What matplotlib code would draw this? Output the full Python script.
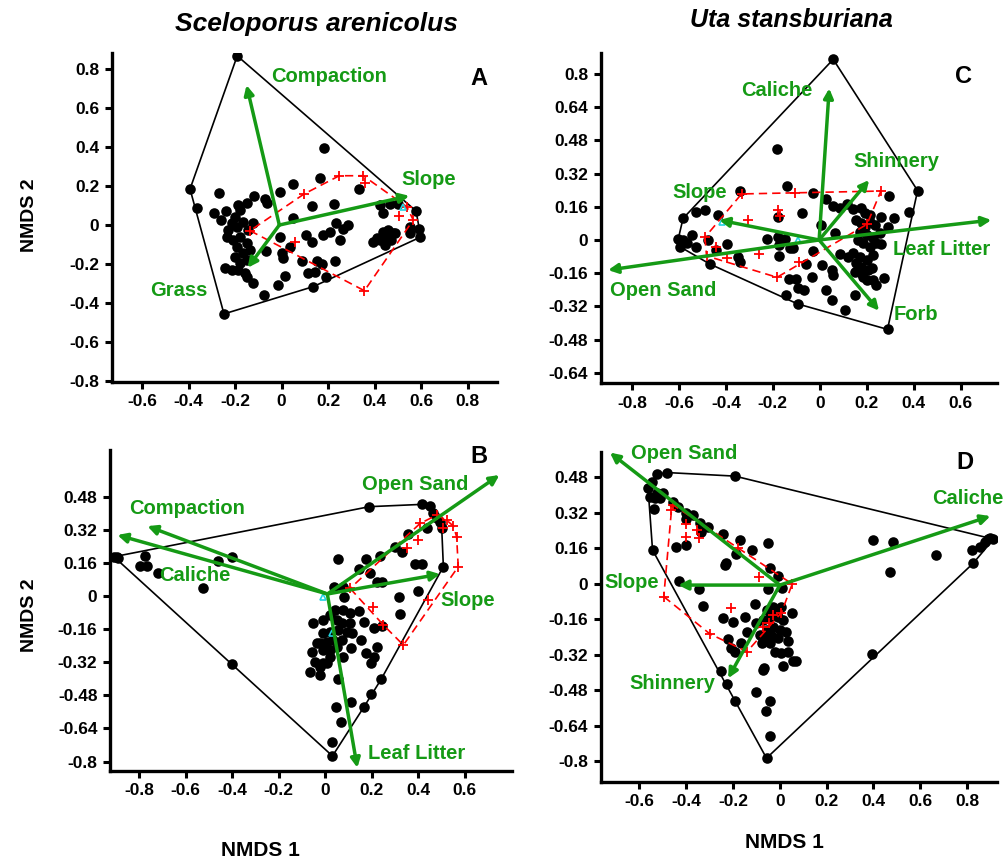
import numpy as np
import matplotlib
matplotlib.use('Agg')
import matplotlib.pyplot as plt

plt.rcParams['font.family'] = ['Liberation Sans', 'DejaVu Sans']
plt.rcParams['font.weight'] = 'bold'

GREEN = '#159a15'

# ---------------- Panel A: Sceloporus arenicolus ----------------
a_x = [-0.191, 0.182, 0.165, 0.047, -0.007, -0.118, -0.270, -0.394,
       -0.072, -0.065, -0.366, -0.291, -0.262, -0.241,
       -0.186, -0.151, -0.179, -0.201, -0.215, -0.229, -0.194, -0.165, -0.143, -0.122,
       -0.237, -0.208, -0.179, -0.151, -0.194, -0.165, -0.136, -0.201, -0.179, -0.151,
       -0.244, -0.215, -0.186, -0.158, -0.151, -0.125,
       -0.067, -0.007, 0.000, 0.007, 0.036, 0.014, -0.017, -0.076,
       0.047, 0.105, 0.129, 0.129, 0.225, 0.234, 0.287, 0.262, 0.208, 0.179, 0.251,
       0.086, 0.151, 0.172, 0.231, 0.115, 0.143, 0.191, 0.136,
       0.334, 0.423, 0.466, 0.502, 0.434,
       0.394, 0.409, 0.437, 0.459, 0.480, 0.444, 0.423, 0.469, 0.552, 0.552,
       0.592, 0.595, 0.578, 0.487, 0.452, -0.248]
a_y = [0.868, 0.397, 0.239, 0.210, 0.168, 0.150, 0.166, 0.185,
       0.132, 0.111, 0.089, 0.063, 0.026, 0.072,
       0.103, 0.111, 0.077, 0.043, 0.009, -0.026, -0.009, 0.017, -0.026, 0.009,
       -0.060, -0.077, -0.060, -0.094, -0.111, -0.145, -0.128, -0.162, -0.197, -0.179,
       -0.222, -0.231, -0.231, -0.248, -0.265, -0.299,
       -0.132, -0.060, -0.145, -0.171, -0.115, -0.262, -0.308, -0.359,
       0.038, -0.051, -0.085, 0.099, 0.106, 0.009, 0.000, -0.021, -0.034, -0.051, -0.077,
       -0.183, -0.183, -0.200, -0.185, -0.248, -0.243, -0.268, -0.316,
       0.185, 0.103, 0.106, 0.106, 0.060,
       -0.085, -0.068, -0.034, -0.026, -0.043, -0.103, -0.077, -0.077, -0.009, -0.043,
       -0.019, -0.063, 0.072, -0.043, -0.060, -0.456]
a_red_x = [-0.136, 0.096, 0.248, 0.351, 0.358, 0.538, 0.566, 0.505, 0.057, 0.356]
a_red_y = [-0.029, 0.159, 0.253, 0.253, 0.214, 0.094, 0.026, 0.048, -0.089, -0.337]
a_vectors = {'Compaction': (-0.151, 0.718), 'Slope': (0.549, 0.150), 'Grass': (-0.146, -0.219)}
a_labels = {'Compaction': (-0.047, 0.764), 'Slope': (0.516, 0.234), 'Grass': (-0.566, -0.337)}
a_origin = (-0.01, 0.0)
a_cent_x = [0.52]
a_cent_y = [0.094]

# ---------------- Panel B: Sceloporus arenicolus ----------------
b_x = [-0.908, -0.896, -0.889, -0.774, -0.796, -0.767, -0.717, -0.523, -0.462, -0.399, -0.399,
       0.191, 0.416, 0.452, 0.466, 0.480, 0.495, 0.502, 0.437, 0.358, 0.330, 0.301, 0.509,
       0.387, 0.416, 0.237, 0.175, 0.057, 0.148, 0.194, 0.225, 0.244, 0.401, 0.320, 0.323,
       0.039, 0.079, 0.082, 0.043, 0.079, 0.108, 0.022, -0.007, 0.050, 0.072, 0.108, -0.050,
       -0.007, 0.022, 0.057, 0.093, 0.115, 0.072, 0.036, 0.007, -0.022, -0.036, 0.022, -0.007,
       -0.057, 0.050, 0.079, 0.110, 0.022, -0.043, -0.007, -0.022, 0.010, -0.065, -0.022, 0.057,
       0.148, 0.169, 0.211, 0.247, 0.155, 0.176, 0.211, 0.225, 0.196,
       0.046, 0.067, 0.112, 0.032, 0.032, 0.168, 0.198, 0.241]
b_y = [0.190, 0.187, 0.182, 0.193, 0.145, 0.145, 0.110, 0.037, 0.171, 0.187, -0.329,
       0.432, 0.443, 0.435, 0.400, 0.375, 0.359, 0.327, 0.327, 0.300, 0.214, 0.238, 0.142,
       0.153, 0.153, 0.195, 0.177, 0.177, 0.129, 0.110, 0.069, 0.069, 0.026, -0.003, -0.087,
       0.045, 0.045, -0.003, -0.068, -0.068, -0.084, -0.092, -0.116, -0.116, -0.129, -0.132, -0.129,
       -0.180, -0.172, -0.164, -0.172, -0.177, -0.213, -0.213, -0.221, -0.229, -0.226, -0.261, -0.261,
       -0.269, -0.245, -0.293, -0.253, -0.293, -0.317, -0.322, -0.342, -0.322, -0.369, -0.382, -0.403,
       -0.071, -0.124, -0.156, -0.143, -0.213, -0.277, -0.293, -0.245, -0.325,
       -0.535, -0.607, -0.511, -0.707, -0.773, -0.535, -0.474, -0.403]
b_red_x = [0.409, 0.480, 0.523, 0.566, 0.573, 0.401, 0.351, 0.444, 0.205, 0.251, 0.337, 0.108, 0.509, 0.552]
b_red_y = [0.351, 0.391, 0.367, 0.287, 0.142, 0.271, 0.230, -0.019, -0.052, -0.140, -0.237, 0.037, 0.327, 0.338]
b_vectors = {'Open Sand': (0.750, 0.585), 'Compaction': (-0.764, 0.338), 'Caliche': (-0.893, 0.295),
             'Slope': (0.495, 0.106), 'Leaf Litter': (0.139, -0.83)}
b_labels = {'Open Sand': (0.158, 0.540), 'Compaction': (-0.842, 0.424), 'Caliche': (-0.713, 0.097),
            'Slope': (0.495, -0.023), 'Leaf Litter': (0.186, -0.760)}
b_origin = (0.010, 0.010)
b_cent_x = [-0.007, 0.029]
b_cent_y = [-0.003, -0.180]

# ---------------- Panel C: Uta stansburiana ----------------
c_x = [0.057, -0.182, -0.138, -0.340, -0.028, 0.028, 0.057, 0.085, 0.116, 0.142, 0.177, 0.191,
       0.213, 0.416, 0.294, 0.380, 0.260, 0.316, 0.291,
       -0.525, -0.489, -0.433, -0.582, -0.546, -0.603, -0.582, -0.567, -0.596, -0.525, -0.475,
       -0.397, -0.440, -0.468, -0.348, -0.340, -0.224, -0.177, -0.149, -0.173, -0.128, -0.113,
       -0.174, -0.078, 0.007, 0.064, -0.028, -0.057, -0.177,
       0.156, 0.177, 0.191, 0.213, 0.234, 0.170, 0.199, 0.227, 0.255, 0.163, 0.184, 0.213,
       0.241, 0.262, 0.142, 0.170, 0.199, 0.227, 0.156, 0.177, 0.206, 0.220, 0.149, 0.184,
       0.199, 0.177, 0.227, 0.241, 0.272, 0.121, 0.085,
       -0.132, -0.102, -0.095, -0.067, -0.035, 0.010, 0.050, 0.054, 0.028, 0.050, 0.106,
       0.149, -0.145, -0.095, 0.288]
c_y = [0.871, 0.437, 0.262, 0.238, 0.228, 0.196, 0.165, 0.153, 0.173, 0.148, 0.153, 0.129,
       0.120, 0.238, 0.214, 0.137, 0.112, 0.104, 0.064,
       0.137, 0.145, 0.120, 0.104, 0.024, 0.003, 0.000, -0.016, -0.032, -0.035, 0.000,
       -0.019, -0.048, -0.116, -0.084, -0.104, 0.005, 0.016, 0.003, -0.024, -0.040, -0.040,
       -0.077, 0.132, 0.072, 0.035, -0.051, -0.116, 0.112,
       0.096, 0.084, 0.064, 0.088, 0.072, 0.040, 0.024, 0.008, 0.032, 0.000, -0.016, -0.032,
       -0.016, -0.019, -0.064, -0.080, -0.096, -0.072, -0.112, -0.129, -0.145, -0.137, -0.153, -0.177,
       -0.193, -0.161, -0.193, -0.217, -0.185, -0.080, -0.067,
       -0.190, -0.190, -0.233, -0.241, -0.177, -0.120, -0.145, -0.169, -0.241, -0.289, -0.337,
       -0.265, -0.265, -0.308, -0.431]
c_red_x = [-0.333, -0.106, 0.260, 0.201, -0.177, -0.170, -0.305, -0.489, -0.440, -0.397, -0.258, -0.182, -0.088, -0.482]
c_red_y = [0.222, 0.225, 0.236, 0.076, 0.145, 0.116, 0.096, 0.013, -0.035, -0.088, -0.069, -0.180, -0.104, -0.077]
c_vectors = {'Caliche': (0.040, 0.731), 'Shinnery': (0.210, 0.289), 'Leaf Litter': (0.730, 0.096),
             'Forb': (0.252, -0.341), 'Open Sand': (-0.901, -0.145), 'Slope': (-0.428, 0.096)}
c_labels = {'Caliche': (-0.333, 0.723), 'Shinnery': (0.142, 0.378), 'Leaf Litter': (0.312, -0.048),
            'Forb': (0.316, -0.361), 'Open Sand': (-0.894, -0.244), 'Slope': (-0.628, 0.230)}
c_origin = (-0.003, 0.0)
c_cent_x = [-0.418, -0.092]
c_cent_y = [0.088, 0.000]

# ---------------- Panel D: Uta stansburiana ----------------
d_x = [-0.481, -0.524, -0.548, -0.563, -0.527, -0.556, -0.534, -0.513, -0.501, -0.537, -0.456,
       -0.434, -0.399, -0.370, -0.402, -0.342, -0.335, -0.306, -0.544, -0.444, -0.402, -0.192,
       -0.242, -0.228, -0.235, -0.171, -0.188, -0.121, -0.050, -0.040, -0.007, -0.430, -0.345,
       -0.330, -0.050, 0.011,
       -0.107, -0.245, -0.202, -0.150, -0.100, -0.057, -0.028, -0.014, 0.007, 0.054, -0.071,
       -0.043, -0.007, 0.014, -0.057, -0.028, 0.000, 0.028, -0.085, -0.064, -0.036, -0.007,
       0.036, -0.142, -0.164, -0.221, -0.207, -0.192, -0.078, -0.043, -0.021, 0.007, 0.036,
       0.014, 0.057, 0.071, -0.068, -0.074, -0.252, -0.224, -0.192, -0.100, -0.040, -0.061,
       -0.043, -0.057,
       0.399, 0.484, 0.667, 0.470, 0.392, 0.826, 0.823, 0.855, 0.876, 0.890, 0.912, 0.897]
d_y = [0.502, 0.494, 0.461, 0.431, 0.408, 0.393, 0.386, 0.386, 0.408, 0.338, 0.371,
       0.348, 0.318, 0.311, 0.291, 0.273, 0.236, 0.258, 0.153, 0.168, 0.176, 0.486,
       0.225, 0.093, 0.086, 0.198, 0.135, 0.153, 0.183, 0.071, 0.038, 0.015, -0.024,
       -0.099, -0.024, -0.017,
       -0.090, -0.155, -0.170, -0.147, -0.174, -0.117, -0.102, -0.125, -0.102, -0.132, -0.162,
       -0.147, -0.147, -0.162, -0.207, -0.192, -0.207, -0.215, -0.230, -0.245, -0.230, -0.245,
       -0.255, -0.215, -0.267, -0.249, -0.290, -0.305, -0.267, -0.267, -0.305, -0.309, -0.305,
       -0.369, -0.347, -0.347, -0.380, -0.387, -0.390, -0.450, -0.526, -0.488, -0.526, -0.572,
       -0.685, -0.785,
       0.198, 0.191, 0.131, 0.053, -0.317, 0.093, 0.153, 0.168, 0.191, 0.201, 0.201, 0.206]
d_red_x = [-0.463, -0.456, -0.402, -0.402, -0.356, -0.345, -0.178, -0.088, 0.053, 0.007, -0.046,
           -0.074, -0.207, -0.299, -0.140, -0.496, -0.028]
d_red_y = [0.333, 0.356, 0.270, 0.213, 0.243, 0.206, 0.161, 0.033, 0.000, -0.129, -0.174,
           -0.192, -0.110, -0.225, -0.305, -0.057, -0.140]
d_vectors = {'Open Sand': (-0.726, 0.592), 'Caliche': (0.900, 0.306), 'Slope': (-0.434, -0.005),
             'Shinnery': (-0.221, -0.425)}
d_labels = {'Open Sand': (-0.638, 0.589), 'Caliche': (0.652, 0.386), 'Slope': (-0.748, 0.006),
            'Shinnery': (-0.644, -0.450)}
d_origin = (0.0, -0.005)
d_cent_x = []
d_cent_y = []


def hull(xs, ys):
    # convex hull (monotone chain) of a group's points
    pts = sorted(set(zip(xs, ys)))

    def cross(o, a, b):
        return (a[0] - o[0]) * (b[1] - o[1]) - (a[1] - o[1]) * (b[0] - o[0])
    lower, upper = [], []
    for p in pts:
        while len(lower) >= 2 and cross(lower[-2], lower[-1], p) <= 0:
            lower.pop()
        lower.append(p)
    for p in reversed(pts):
        while len(upper) >= 2 and cross(upper[-2], upper[-1], p) <= 0:
            upper.pop()
        upper.append(p)
    h = lower[:-1] + upper[:-1]
    h.append(h[0])
    return [p[0] for p in h], [p[1] for p in h]


def fmt(v):
    s = ('%.2f' % v).rstrip('0').rstrip('.')
    if s in ('-0', ''):
        s = '0'
    return s


def panel(rect, xs, ys, rx, ry, vectors, labels, origin, cx, cy,
          xlim, ylim, xticks, yticks, letter, letter_pos):
    ax = fig.add_axes(rect)
    hx, hy = hull(xs, ys)
    ax.plot(hx, hy, color='black', lw=1.2, zorder=2)
    ax.scatter(xs, ys, s=58, color='black', zorder=3, linewidths=0)
    rhx, rhy = hull(rx, ry)
    ax.plot(rhx, rhy, color='red', lw=1.2, ls=(0, (5, 3)), zorder=4)
    ax.plot(rx, ry, '+', color='red', ms=7, mew=1.3, zorder=4)
    if cx:
        ax.plot(cx, cy, '^', mfc='none', mec='#22d3e0', ms=5, mew=1.2, zorder=4)
    for name, (vx, vy) in vectors.items():
        ax.annotate('', xy=(vx, vy), xytext=origin,
                    arrowprops=dict(arrowstyle='-|>', color=GREEN, lw=2.5,
                                    mutation_scale=14, shrinkA=0, shrinkB=0),
                    zorder=5, annotation_clip=False)
    for name, (lx, ly) in labels.items():
        ax.text(lx, ly, name, color=GREEN, fontsize=14.5, fontweight='bold',
                ha='left', va='center', zorder=6, clip_on=False)
    ax.text(letter_pos[0], letter_pos[1], letter, fontsize=17, fontweight='bold',
            ha='left', va='center')
    ax.set_xlim(xlim)
    ax.set_ylim(ylim)
    ax.set_xticks(xticks)
    ax.set_xticklabels([fmt(v) for v in xticks])
    ax.set_yticks(yticks)
    ax.set_yticklabels([fmt(v) for v in yticks])
    for s in ('top', 'right'):
        ax.spines[s].set_visible(False)
    for s in ('left', 'bottom'):
        ax.spines[s].set_linewidth(2.4)
    ax.tick_params(direction='out', length=5, width=2.2, labelsize=12.5, pad=4)
    for lab in ax.get_xticklabels() + ax.get_yticklabels():
        lab.set_fontweight('bold')
    return ax


fig = plt.figure(figsize=(10.06, 8.67), dpi=100)

panel([0.111, 0.5597, 0.383, 0.379], a_x, a_y, a_red_x, a_red_y, a_vectors, a_labels,
      a_origin, a_cent_x, a_cent_y, (-0.731, 0.926), (-0.804, 0.882),
      [-0.6, -0.4, -0.2, 0, 0.2, 0.4, 0.6, 0.8],
      [-0.8, -0.6, -0.4, -0.2, 0, 0.2, 0.4, 0.6, 0.8], 'A', (0.81, 0.752))

panel([0.1093, 0.1111, 0.3996, 0.3699], b_x, b_y, b_red_x, b_red_y, b_vectors, b_labels,
      b_origin, b_cent_x, b_cent_y, (-0.925, 0.804), (-0.844, 0.706),
      [-0.8, -0.6, -0.4, -0.2, 0, 0.2, 0.4, 0.6],
      [-0.8, -0.64, -0.48, -0.32, -0.16, 0, 0.16, 0.32, 0.48], 'B', (0.624, 0.673))

panel([0.597, 0.5579, 0.3936, 0.3806], c_x, c_y, c_red_x, c_red_y, c_vectors, c_labels,
      c_origin, c_cent_x, c_cent_y, (-0.933, 0.752), (-0.691, 0.9),
      [-0.8, -0.6, -0.4, -0.2, 0, 0.2, 0.4, 0.6],
      [-0.64, -0.48, -0.32, -0.16, 0, 0.16, 0.32, 0.48, 0.64, 0.8], 'C', (0.574, 0.787))

panel([0.597, 0.0984, 0.3936, 0.3806], d_x, d_y, d_red_x, d_red_y, d_vectors, d_labels,
      d_origin, d_cent_x, d_cent_y, (-0.766, 0.926), (-0.891, 0.596),
      [-0.6, -0.4, -0.2, 0, 0.2, 0.4, 0.6, 0.8],
      [-0.8, -0.64, -0.48, -0.32, -0.16, 0, 0.16, 0.32, 0.48], 'D', (0.755, 0.547))

fig.text(316 / 1006, 1 - 24 / 867, 'Sceloporus arenicolus', fontsize=19, fontweight='bold',
         fontstyle='italic', ha='center', va='center')
fig.text(791 / 1006, 1 - 20 / 867, 'Uta stansburiana', fontsize=18, fontweight='bold',
         fontstyle='italic', ha='center', va='center')
fig.text(30 / 1006, 1 - 215 / 867, 'NMDS 2', fontsize=14, fontweight='bold',
         rotation=90, ha='center', va='center')
fig.text(30 / 1006, 1 - 615 / 867, 'NMDS 2', fontsize=14, fontweight='bold',
         rotation=90, ha='center', va='center')
fig.text(260 / 1006, 1 - 850 / 867, 'NMDS 1', fontsize=15, fontweight='bold',
         ha='center', va='center')
fig.text(784 / 1006, 1 - 843 / 867, 'NMDS 1', fontsize=15, fontweight='bold',
         ha='center', va='center')

fig.savefig('out.png', dpi=100)
